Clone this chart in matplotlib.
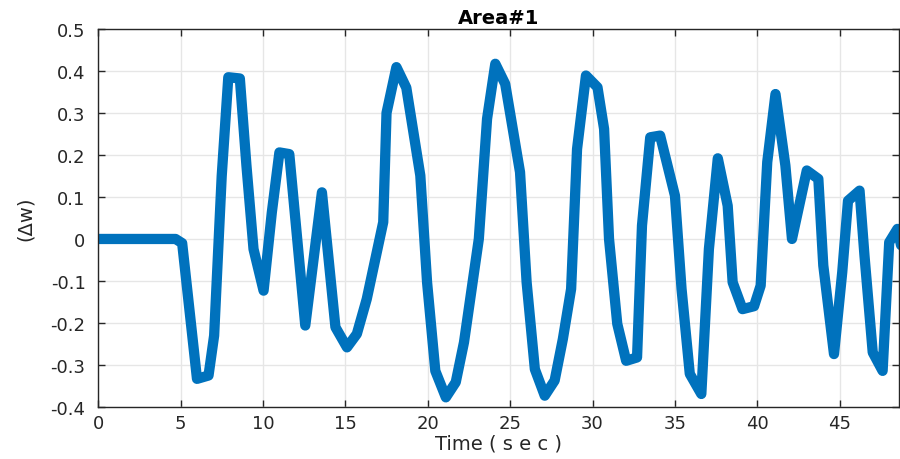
import matplotlib
matplotlib.use('Agg')
from matplotlib import pyplot as plt
from matplotlib.ticker import FuncFormatter

# wide font, closest to the stretched look of the original
plt.rcParams['font.family'] = ['DejaVu Sans']
plt.rcParams['font.size'] = 13

# time samples (sec) and frequency deviation
time = [0, 4.7, 5.1, 6.0, 6.7, 7.04, 7.5, 7.9, 8.6, 9.0, 9.43, 10.04, 10.54, 11.0, 11.6,
        12.57, 13.58, 14.4, 15.1, 15.7, 16.3, 17.3, 17.5, 18.1, 18.7, 19.55, 19.96,
        20.46, 21.1, 21.7, 22.2, 23.1, 23.6, 24.1, 24.7, 25.6, 26.0, 26.5, 27.1, 27.7,
        28.2, 28.7, 29.06, 29.6, 30.3, 30.7, 31.0, 31.5, 32.04, 32.7, 33.0, 33.5, 34.1,
        35.0, 35.4, 35.9, 36.6, 37.06, 37.6, 38.2, 38.5, 39.1, 39.8, 40.2, 40.6, 41.1,
        41.7, 42.1, 43.0, 43.7, 44.0, 44.65, 45.15, 45.5, 46.2, 46.5, 47.0, 47.6, 48.0,
        48.5, 48.8]
dw = [0, 0, -0.01, -0.333, -0.325, -0.23, 0.15, 0.385, 0.382, 0.175, -0.024, -0.123,
      0.063, 0.206, 0.202, -0.206, 0.111, -0.21, -0.258, -0.226, -0.143, 0.04, 0.30,
      0.409, 0.36, 0.151, -0.103, -0.314, -0.377, -0.341, -0.246, 0.0, 0.286, 0.417,
      0.369, 0.159, -0.103, -0.31, -0.373, -0.337, -0.238, -0.119, 0.214, 0.389, 0.361,
      0.262, 0.0, -0.202, -0.29, -0.282, 0.032, 0.242, 0.246, 0.103, -0.119, -0.321,
      -0.369, -0.024, 0.192, 0.079, -0.103, -0.167, -0.16, -0.111, 0.183, 0.345, 0.175,
      0.0, 0.163, 0.143, -0.063, -0.274, -0.079, 0.091, 0.115, -0.040, -0.27, -0.314,
      -0.008, 0.024, -0.03]

x_ticks = [0, 5, 10, 15, 20, 25, 30, 35, 40, 45]
y_ticks = [-0.4, -0.3, -0.2, -0.1, 0, 0.1, 0.2, 0.3, 0.4, 0.5]

fig = plt.figure(figsize=(9, 4.6), dpi=100)
ax = fig.add_axes([0.109, 0.113, 0.89, 0.822])

ax.plot(time, dw, color='#0072BD', linewidth=7.4, solid_joinstyle='round', solid_capstyle='round')

ax.set_xlim(0, 48.6)
ax.set_ylim(-0.4, 0.5)
ax.set_xticks(x_ticks)
ax.set_yticks(y_ticks)
ax.yaxis.set_major_formatter(FuncFormatter(lambda v, p: '%g' % round(v, 2)))
ax.grid(True, color='#e6e6e6', linewidth=1)
ax.set_axisbelow(True)

ax.tick_params(direction='in', top=True, right=True, length=5, width=1, colors='#262626',
               labelsize=13)
ax.tick_params(axis='y', pad=9)
ax.tick_params(axis='x', pad=5)
for s in ax.spines.values():
    s.set_color('#262626')
    s.set_linewidth(1)

ax.set_title('Area#1', fontweight='bold', fontsize=14, pad=4)
ax.set_xlabel('Time ( s e c )', fontsize=14, color='#262626', labelpad=1)
ax.set_ylabel('(\u0394w)', fontsize=14, color='#262626', labelpad=11)

plt.savefig('out.png', dpi=100)
plt.close()
